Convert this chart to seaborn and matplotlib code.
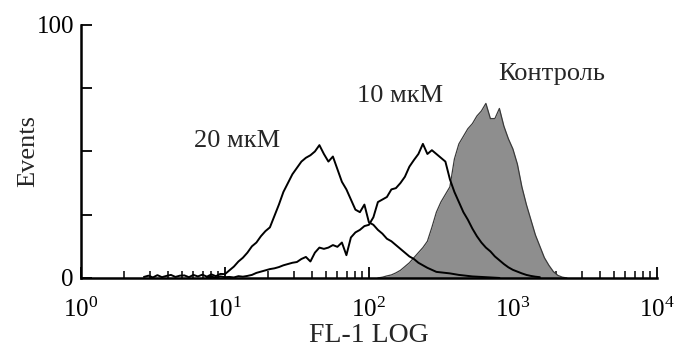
import numpy as np
import pandas as pd
import matplotlib
matplotlib.use("Agg")
import matplotlib.pyplot as plt
import seaborn as sns

# FL-1 LOG histogram: 32 channels per decade, counts
CH_PER_DECADE = 32

start_20 = 14
counts_20 = [0.4, 0.9, 0.2, 1.1, 0.3, 0.8, 1.2, 0.4, 0.9, 1.0, 0.3, 1.2, 0.6, 1.3, 0.5, 1.4, 0.7, 1.6,
             1.5, 3.0, 4.5, 6.5, 8.0, 10.0, 12.5, 14.0, 16.5, 18.5, 20.0, 24.5, 29.0, 34.0, 37.5, 41.0,
             43.5, 46.0, 47.5, 48.5, 50.0, 52.5, 49.0, 46.0, 48.0, 43.0, 38.0, 35.0, 31.0, 27.0, 26.0,
             29.0, 22.0, 21.0, 19.0, 17.5, 15.5, 14.5, 13.0, 11.5, 10.0, 8.5, 7.5, 6.0, 5.0, 4.0,
             3.2, 2.4, 2.2, 2.0, 1.8, 1.5, 1.2, 1.0, 0.8, 0.6, 0.5, 0.4, 0.3, 0.2, 0.1, 0.0]

start_10 = 28
counts_10 = [0.2, 0.5, 0.1, 0.6, 0.3, 0.4, 0.2, 0.7,
             0.5, 0.8, 1.2, 2.0, 2.5, 3.0, 3.5, 3.8, 4.3, 5.0, 5.5, 6.0, 6.3, 7.5, 8.3, 6.5, 10.0,
             12.0, 11.5, 12.0, 13.0, 12.3, 14.0, 9.0, 16.0, 18.0, 19.0, 20.5, 21.0, 24.0, 30.0, 31.0,
             32.0, 35.0, 35.5, 37.5, 40.0, 44.0, 46.6, 49.0, 53.0, 49.0, 50.5, 49.0, 47.5, 46.0,
             39.0, 34.0, 30.0, 26.0, 23.0, 19.5, 16.5, 14.0, 12.0, 10.5, 8.5, 7.0, 5.5, 4.2, 3.2,
             2.5, 1.8, 1.2, 0.8, 0.5, 0.3]

start_ctrl = 66
counts_ctrl = [0.0, 0.3, 0.8, 1.2, 2.0, 3.0, 4.5, 6.0, 8.0, 10.0, 12.0, 14.5, 20.0, 26.0, 30.0,
               33.0, 36.0, 47.0, 53.0, 56.0, 59.0, 61.0, 64.0, 66.0, 69.0, 63.0, 63.0, 67.0, 60.0,
               55.0, 51.0, 45.0, 36.0, 29.0, 23.0, 17.0, 12.5, 8.0, 5.0, 2.5, 1.0, 0.3, 0.0]

labels = ["20 мкМ", "10 мкМ", "Контроль"]
label_pos = [(12.2, 54.2), (164, 71.9), (1864, 80.8)]


def to_frame(start, counts, name):
    ch = np.arange(start, start + len(counts))
    return pd.DataFrame({"fl1": 10 ** (ch / CH_PER_DECADE), "events": counts, "sample": name})


df = pd.concat([to_frame(start_20, counts_20, labels[0]),
                to_frame(start_10, counts_10, labels[1]),
                to_frame(start_ctrl, counts_ctrl, labels[2])], ignore_index=True)

sns.set_theme(style="white")
plt.rcParams['font.family'] = ['Liberation Serif', 'DejaVu Serif']
plt.rcParams['mathtext.fontset'] = 'custom'
plt.rcParams['mathtext.rm'] = 'Liberation Serif'

fig = plt.figure(figsize=(6.8, 3.47), dpi=100)
ax = fig.add_axes([0.119, 0.199, 0.847, 0.729])

ctrl = df[df['sample'] == labels[2]]
ax.fill_between(ctrl['fl1'], ctrl['events'], color='#8e8e8e', linewidth=0, zorder=1)
sns.lineplot(data=ctrl, x='fl1', y='events', color='#3a3a3a',
             linewidth=0.9, ax=ax, zorder=2, errorbar=None)
for name in labels[:2]:
    sns.lineplot(data=df[df['sample'] == name], x='fl1', y='events',
                 color='black', linewidth=1.4, ax=ax, zorder=3, errorbar=None)

ax.set_xscale('log')
ax.set_xlim(1, 1e4)
ax.set_ylim(0, 100)
ax.set_yticks([0, 25, 50, 75, 100])
ax.set_yticklabels(['0', '', '', '', '100'])

for spine in ['top', 'right']:
    ax.spines[spine].set_visible(False)
for spine in ['left', 'bottom']:
    ax.spines[spine].set_linewidth(1.8)
    ax.spines[spine].set_color('black')

ax.tick_params(axis='both', which='major', direction='in', length=8, width=1.3,
               labelsize=18, colors='black')
ax.tick_params(axis='x', which='major', pad=14)
ax.tick_params(axis='y', which='major', pad=5)
ax.tick_params(axis='x', which='minor', direction='in', length=5, width=1.1, color='black')
ax.tick_params(axis='x', which='both', bottom=True)
ax.tick_params(axis='y', which='both', left=True)

ax.set_xlabel('FL-1 LOG', fontsize=20, labelpad=1)
ax.set_ylabel('Events', fontsize=19, labelpad=-2)

for text, (x, y) in zip(labels, label_pos):
    ax.text(x, y, text, fontsize=19, ha='center', va='center')

plt.savefig('out.png', dpi=100)
